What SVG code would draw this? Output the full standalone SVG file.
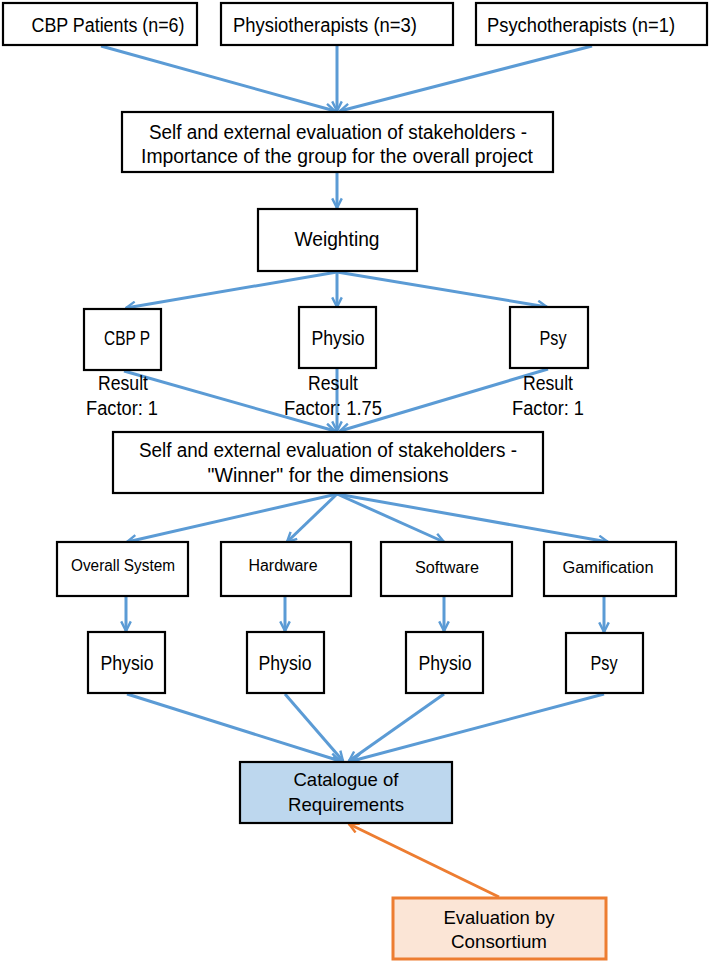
<svg xmlns="http://www.w3.org/2000/svg" width="711" height="961" viewBox="0 0 711 961">
<style>
  .box { fill: #ffffff; stroke: #000000; stroke-width: 2.2; }
  .cat { fill: #bdd7ee; stroke: #000000; stroke-width: 2.2; }
  .ev { fill: #fbe5d6; stroke: #ed7d31; stroke-width: 3; }
  text { font-family: "Liberation Sans", Arial, sans-serif; fill: #000000; text-anchor: middle; }
  .t18 { font-size: 19.5px; }
  .t17 { font-size: 18.5px; }
  .t15 { font-size: 16px; }
  .c { fill: none; stroke: #5b9bd5; stroke-width: 3; marker-end: url(#ab); }
  .o { fill: none; stroke: #ed7d31; stroke-width: 3; marker-end: url(#ao); }
</style>
<defs>
  <marker id="ab" viewBox="0 0 10 10" refX="9" refY="5" markerWidth="4" markerHeight="4" orient="auto" markerUnits="strokeWidth">
    <path d="M1,1 L9,5 L1,9" fill="none" stroke="#5b9bd5" stroke-width="2"/>
  </marker>
  <marker id="ao" viewBox="0 0 10 10" refX="9" refY="5" markerWidth="4" markerHeight="4" orient="auto" markerUnits="strokeWidth">
    <path d="M1,1 L9,5 L1,9" fill="none" stroke="#ed7d31" stroke-width="2"/>
  </marker>
</defs>

<g id="connectors">
  <line class="c" x1="101" y1="46" x2="335" y2="111"/>
  <line class="c" x1="337" y1="45" x2="337" y2="111"/>
  <line class="c" x1="592" y1="46" x2="340" y2="111"/>
  <line class="c" x1="337" y1="173" x2="337" y2="208"/>
  <line class="c" x1="337" y1="272" x2="126" y2="308"/>
  <line class="c" x1="337" y1="272" x2="337" y2="307"/>
  <line class="c" x1="337" y1="272" x2="547" y2="307"/>
  <line class="c" x1="124" y1="371" x2="335" y2="431"/>
  <line class="c" x1="337" y1="369" x2="337" y2="431"/>
  <line class="c" x1="548" y1="369" x2="340" y2="431"/>
  <line class="c" x1="337" y1="494" x2="127" y2="542"/>
  <line class="c" x1="337" y1="494" x2="287" y2="542"/>
  <line class="c" x1="337" y1="494" x2="444" y2="542"/>
  <line class="c" x1="337" y1="494" x2="608" y2="542"/>
  <line class="c" x1="126" y1="597" x2="126" y2="631"/>
  <line class="c" x1="285" y1="597" x2="285" y2="631"/>
  <line class="c" x1="444" y1="597" x2="444" y2="631"/>
  <line class="c" x1="604" y1="597" x2="604" y2="632"/>
  <line class="c" x1="127" y1="694" x2="340" y2="761"/>
  <line class="c" x1="285" y1="694" x2="343" y2="761"/>
  <line class="c" x1="444" y1="694" x2="349" y2="761"/>
  <line class="c" x1="604" y1="694" x2="352" y2="761"/>
  <line class="o" x1="499" y1="897" x2="349" y2="824"/>
</g>

<g id="cbp-patients">
  <rect class="box" x="3" y="3" width="194" height="42"/>
  <text class="t18" x="108" y="32" textLength="153" lengthAdjust="spacingAndGlyphs">CBP Patients (n=6)</text>
</g>
<g id="physiotherapists">
  <rect class="box" x="221" y="3" width="232" height="42"/>
  <text class="t18" x="325" y="32" textLength="184" lengthAdjust="spacingAndGlyphs">Physiotherapists (n=3)</text>
</g>
<g id="psychotherapists">
  <rect class="box" x="476" y="3" width="231" height="42"/>
  <text class="t18" x="581" y="32" textLength="188" lengthAdjust="spacingAndGlyphs">Psychotherapists (n=1)</text>
</g>

<g id="evaluation-importance">
  <rect class="box" x="122" y="112" width="431" height="60"/>
  <text class="t18" x="338" y="139" textLength="378" lengthAdjust="spacingAndGlyphs">Self and external evaluation of stakeholders -</text>
  <text class="t18" x="337" y="163" textLength="392" lengthAdjust="spacingAndGlyphs">Importance of the group for the overall project</text>
</g>

<g id="weighting">
  <rect class="box" x="258" y="209" width="159" height="62"/>
  <text class="t18" x="337" y="246" textLength="85" lengthAdjust="spacingAndGlyphs">Weighting</text>
</g>

<g id="cbp-p">
  <rect class="box" x="84" y="309" width="77" height="61"/>
  <text class="t18" x="127" y="345" textLength="46" lengthAdjust="spacingAndGlyphs">CBP P</text>
  <text class="t18" x="123" y="390" textLength="50" lengthAdjust="spacingAndGlyphs">Result</text>
  <text class="t18" x="122" y="415" textLength="72" lengthAdjust="spacingAndGlyphs">Factor: 1</text>
</g>
<g id="physio-w">
  <rect class="box" x="299" y="307" width="77" height="61"/>
  <text class="t18" x="338" y="345" textLength="53" lengthAdjust="spacingAndGlyphs">Physio</text>
  <text class="t18" x="333" y="390" textLength="50" lengthAdjust="spacingAndGlyphs">Result</text>
  <text class="t18" x="333" y="415" textLength="98" lengthAdjust="spacingAndGlyphs">Factor: 1.75</text>
</g>
<g id="psy-w">
  <rect class="box" x="510" y="307" width="78" height="61"/>
  <text class="t18" x="553" y="345" textLength="27" lengthAdjust="spacingAndGlyphs">Psy</text>
  <text class="t18" x="548" y="390" textLength="50" lengthAdjust="spacingAndGlyphs">Result</text>
  <text class="t18" x="548" y="415" textLength="72" lengthAdjust="spacingAndGlyphs">Factor: 1</text>
</g>

<g id="evaluation-winner">
  <rect class="box" x="113" y="432" width="430" height="61"/>
  <text class="t18" x="328" y="457" textLength="378" lengthAdjust="spacingAndGlyphs">Self and external evaluation of stakeholders -</text>
  <text class="t18" x="328" y="482" textLength="241" lengthAdjust="spacingAndGlyphs">"Winner" for the dimensions</text>
</g>

<g id="overall-system">
  <rect class="box" x="57" y="542" width="131" height="54"/>
  <text class="t15" x="123" y="571" textLength="104" lengthAdjust="spacingAndGlyphs">Overall System</text>
</g>
<g id="hardware">
  <rect class="box" x="221" y="542" width="130" height="54"/>
  <text class="t15" x="283" y="571" textLength="69" lengthAdjust="spacingAndGlyphs">Hardware</text>
</g>
<g id="software">
  <rect class="box" x="381" y="542" width="131" height="54"/>
  <text class="t15" x="447" y="573" textLength="64" lengthAdjust="spacingAndGlyphs">Software</text>
</g>
<g id="gamification">
  <rect class="box" x="544" y="542" width="132" height="54"/>
  <text class="t15" x="608" y="573" textLength="91" lengthAdjust="spacingAndGlyphs">Gamification</text>
</g>

<g id="physio-1">
  <rect class="box" x="88" y="632" width="77" height="61"/>
  <text class="t18" x="127" y="670" textLength="53" lengthAdjust="spacingAndGlyphs">Physio</text>
</g>
<g id="physio-2">
  <rect class="box" x="247" y="632" width="77" height="61"/>
  <text class="t18" x="285" y="670" textLength="53" lengthAdjust="spacingAndGlyphs">Physio</text>
</g>
<g id="physio-3">
  <rect class="box" x="406" y="632" width="77" height="61"/>
  <text class="t18" x="445" y="670" textLength="53" lengthAdjust="spacingAndGlyphs">Physio</text>
</g>
<g id="psy-4">
  <rect class="box" x="566" y="633" width="77" height="60"/>
  <text class="t18" x="604" y="670" textLength="27" lengthAdjust="spacingAndGlyphs">Psy</text>
</g>

<g id="catalogue">
  <rect class="cat" x="240" y="762" width="212" height="61"/>
  <text class="t17" x="346" y="786" textLength="105" lengthAdjust="spacingAndGlyphs">Catalogue of</text>
  <text class="t17" x="346" y="811" textLength="116" lengthAdjust="spacingAndGlyphs">Requirements</text>
</g>

<g id="consortium">
  <rect class="ev" x="393" y="898" width="213" height="61"/>
  <text class="t17" x="499" y="924" textLength="111" lengthAdjust="spacingAndGlyphs">Evaluation by</text>
  <text class="t17" x="499" y="948" textLength="96" lengthAdjust="spacingAndGlyphs">Consortium</text>
</g>
</svg>
